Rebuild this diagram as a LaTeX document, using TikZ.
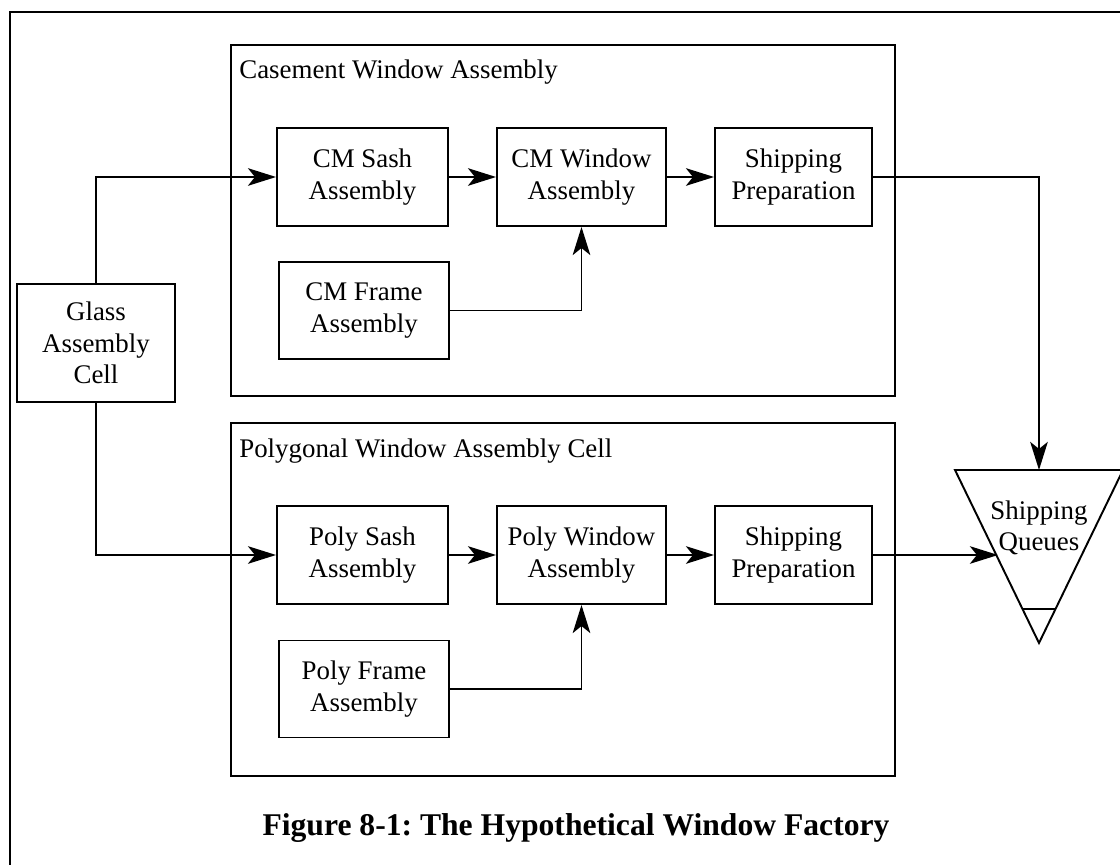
\documentclass[tikz,border=0pt]{standalone}
\usepackage{fontspec}
\setmainfont{Liberation Serif}
\usepackage{tikz}
\usetikzlibrary{arrows.meta, positioning, calc}
\frenchspacing
\tikzset{
  block/.style={rectangle, draw=black, fill=white, align=center, inner sep=0pt, line width=1.1pt, font=\fontsize{15.3}{18}\selectfont},
  cell/.style={draw=black, line width=1.1pt},
  celltitle/.style={anchor=base west, inner sep=0pt, font=\fontsize{15.3}{18}\selectfont},
  arrow/.style={-{Stealth[length=16pt, width=10pt, inset=4pt]}, line width=1.1pt},
  line/.style={line width=1.1pt}
}
\begin{document}
\begin{tikzpicture}[x=0.02cm, y=-0.02cm]
  \useasboundingbox (0,0) rectangle (1120,865);
  % Page frame (cropped)
  \draw[line width=1.5pt] (1120,12) -- (10,12) -- (10,865);

  % Casement cell
  \draw[cell] (231,45) rectangle (895,396);
  \node[celltitle] (cmtitle) at (239,79) {Casement Window Assembly};
  \node[block, minimum width=3.42cm, minimum height=1.96cm] (cmsash) at (362.5,177) {CM Sash\\Assembly};
  \node[block, minimum width=3.38cm, minimum height=1.96cm] (cmwin) at (581.5,177) {CM Window\\Assembly};
  \node[block, minimum width=3.14cm, minimum height=1.96cm] (cmship) at (793.5,177) {Shipping\\Preparation};
  \node[block, minimum width=3.4cm, minimum height=1.94cm] (cmframe) at (364,310.5) {CM Frame\\Assembly};

  % Polygonal cell
  \draw[cell] (231,423) rectangle (895,776);
  \node[celltitle] (polytitle) at (239,457) {Polygonal Window Assembly Cell};
  \node[block, minimum width=3.42cm, minimum height=1.96cm] (polysash) at (362.5,555) {Poly Sash\\Assembly};
  \node[block, minimum width=3.38cm, minimum height=1.96cm] (polywin) at (581.5,555) {Poly Window\\Assembly};
  \node[block, minimum width=3.14cm, minimum height=1.96cm] (polyship) at (793.5,555) {Shipping\\Preparation};
  \node[block, minimum width=3.4cm, minimum height=1.94cm] (polyframe) at (364,689) {Poly Frame\\Assembly};

  % Glass cell
  \node[block, minimum width=3.16cm, minimum height=2.36cm] (glass) at (96,343) {Glass\\Assembly\\Cell};

  % Shipping queues
  \coordinate (qtop) at (1039,470);
  \coordinate (qleft) at (998,555);
  \draw[line] (955,470) -- (1123,470) -- (1039,643) -- cycle;
  \draw[line] (1022,609) -- (1056,609);
  \node[align=center, inner sep=0pt, font=\fontsize{15.3}{18}\selectfont] (queue) at (1039,528) {Shipping\\Queues};

  % Flows
  \draw[arrow] (glass.north) |- (cmsash.west);
  \draw[arrow] (glass.south) |- (polysash.west);
  \draw[arrow] (cmsash) -- (cmwin);
  \draw[arrow] (cmwin) -- (cmship);
  \draw[arrow] (cmframe.east) -| (cmwin.south);
  \draw[arrow] (polysash) -- (polywin);
  \draw[arrow] (polywin) -- (polyship);
  \draw[arrow] (polyframe.east) -| (polywin.south);
  \draw[arrow] (cmship.east) -| (qtop);
  \draw[arrow] (polyship.east) -- (qleft);

  % Caption
  \node[font=\fontsize{18}{22}\selectfont\bfseries] (caption) at (576,828) {Figure 8-1: The Hypothetical Window Factory};
\end{tikzpicture}
\end{document}
